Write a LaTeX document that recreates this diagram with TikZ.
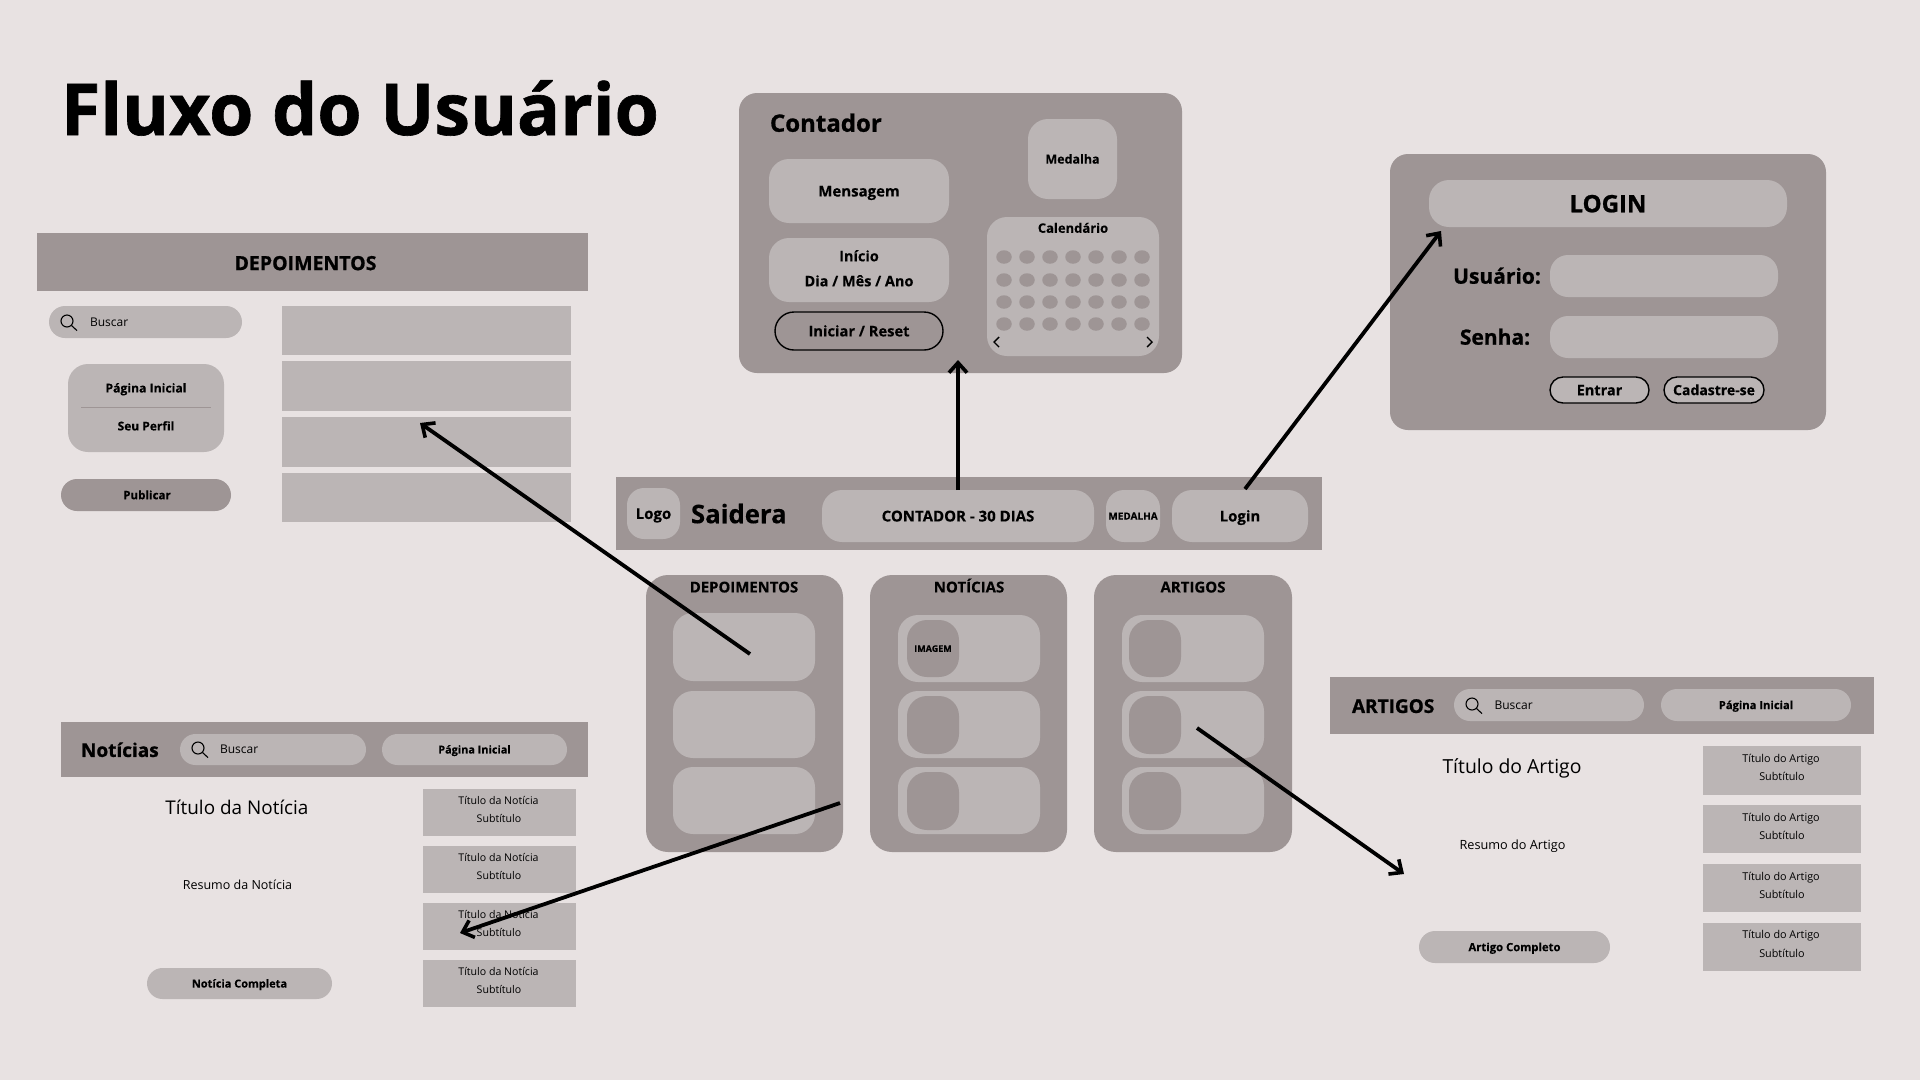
\documentclass[tikz,border=0pt]{standalone}
\usepackage{fontspec}
\setmainfont{Open Sans}[BoldFeatures={FakeBold=0.15}]
\newfontfamily\xbfam{Open Sans}[BoldFeatures={FakeBold=0.9}]
\newcommand{\xbf}{\xbfam\bfseries}
\usetikzlibrary{arrows.meta,shapes.geometric}
\definecolor{fundo}{HTML}{E8E2E2}
\definecolor{escuro}{HTML}{9E9595}
\definecolor{claro}{HTML}{BBB5B5}
\tikzset{
  bx/.style={inner sep=0pt,outer sep=0pt,rectangle},
  painel/.style={bx,fill=escuro,rounded corners=#1},
  painel/.default=0pt,
  cartao/.style={bx,fill=claro,rounded corners=#1},
  cartao/.default=0pt,
  contorno/.style={bx,draw=black,line width=1.4pt,rounded corners=#1},
  bold/.style={font=\bfseries\fontsize{#1}{#1}\selectfont,text height={.73*#1 pt},text depth=0pt,text=black},
  xbold/.style={font=\xbf\fontsize{#1}{#1}\selectfont,text height={.73*#1 pt},text depth=0pt,text=black},
  reg/.style={font=\fontsize{#1}{#1}\selectfont,text height={.73*#1 pt},text depth=0pt,text=black},
  lbl/.style={inner sep=0pt,outer sep=0pt},
  seta/.style={line width=3.8pt,black,-{Straight Barb[length=10pt,width=18pt,line width=3.6pt]}},
  lente/.style={black,line width=1.1pt},
  ponto/.style={shape=ellipse,fill=escuro,minimum width=15.5pt,minimum height=13.5pt,inner sep=0pt},
}
\newcommand{\bx}[7]{%
  \pgfmathsetmacro{\cxx}{(#2+#4)/2}\pgfmathsetmacro{\cyy}{(#3+#5)/2}%
  \pgfmathsetmacro{\www}{#4-#2}\pgfmathsetmacro{\hhh}{#5-#3}%
  \node[#6,minimum width=\www pt,minimum height=\hhh pt] (#1) at (\cxx,\cyy) {#7};}
\newcommand{\lupa}[2]{%
  \draw[lente] (#1-1,#2-1) circle[radius=6pt];
  \draw[lente] (#1+3.4,#2+3.4) -- (#1+9,#2+8.6);}
\begin{document}
\begin{tikzpicture}[x=1pt,y=-1pt]
\useasboundingbox (0,0) rectangle (1920,1080);
\fill[fundo] (0,0) rectangle (1920,1080);

\node[lbl,anchor=base west,font=\xbf\fontsize{71.6}{72}\selectfont] (titulo) at (61,135) {Fluxo do Usuário};

% ---- Contador
\bx{pcont}{739}{93}{1182}{373}{painel=18pt}{}
\node[lbl,xbold=24,anchor=west] (tcont) at (770,123) {Contador};
\bx{msg}{769}{159}{949}{223}{cartao=20pt,bold=15}{Mensagem}
\bx{ini}{769}{238}{949}{302}{cartao=20pt}{}
\node[lbl,bold=14.5] (ini1) at (859,256) {Início};
\node[lbl,bold=14.5] (ini2) at (859,281) {Dia / Mês / Ano};
\bx{res}{775}{312}{943}{350}{contorno=19pt,bold=14.7}{Iniciar / Reset}
\bx{med}{1028}{119}{1117}{199}{cartao=20pt,bold=12.5}{Medalha}
\bx{cal}{987}{217}{1159}{356}{cartao=20pt}{}
\node[lbl,bold=13] (tcal) at (1073,228) {Calendário};
\foreach \yy [count=\j] in {257,280,302,324}
  \foreach \xx [count=\i] in {1004,1027,1050,1073,1096,1119,1142}
    \node[ponto] (d\i-\j) at (\xx,\yy) {};
\draw[line width=1.4pt] (999,337) -- (994,342) -- (999,347);
\draw[line width=1.4pt] (1147,337) -- (1152,342) -- (1147,347);

% ---- Login
\bx{plog}{1390}{154}{1826}{430}{painel=18pt}{}
\bx{tlog}{1429}{180}{1787}{227}{cartao=20pt,xbold=24}{LOGIN}
\node[lbl,xbold=21] (lusu) at (1497,276) {Usuário:};
\bx{fusu}{1550}{255}{1778}{297}{cartao=18pt}{}
\node[lbl,xbold=21] (lsen) at (1495,337) {Senha:};
\bx{fsen}{1550}{316}{1778}{358}{cartao=18pt}{}
\bx{ent}{1550}{377}{1649}{403}{contorno=13pt,fill=claro,bold=14.5}{Entrar}
\bx{cad}{1664}{377}{1764}{403}{contorno=13pt,fill=claro,bold=14}{Cadastre-se}

% ---- Barra
\bx{barra}{616}{477}{1322}{550}{painel}{}
\bx{logo}{627}{488}{680}{539}{cartao=17pt,bold=15}{Logo}
\node[lbl,font=\fontsize{25.7}{26}\selectfont\bfseries,anchor=west,text height=18.5pt,text depth=0pt] (sai) at (691,514) {Saidera};
\bx{cnt}{822}{490}{1094}{542}{cartao=20pt,bold=15}{CONTADOR - 30 DIAS}
\bx{bmed}{1106}{490}{1160}{542}{cartao=18pt,bold=10}{MEDALHA}
\bx{blog}{1172}{490}{1308}{542}{cartao=20pt,bold=15}{Login}

% ---- Colunas
\bx{cdep}{646}{575}{843}{852}{painel=22pt}{}
\bx{cnot}{870}{575}{1067}{852}{painel=22pt}{}
\bx{cart}{1094}{575}{1292}{852}{painel=22pt}{}
\node[lbl,bold=14.9] (tdep) at (744,587) {DEPOIMENTOS};
\node[lbl,bold=15] (tnot) at (969,587) {NOTÍCIAS};
\node[lbl,bold=15] (tart) at (1193,587) {ARTIGOS};
\bx{dep1}{673}{613}{815}{681}{cartao=20pt}{}
\bx{dep2}{673}{691}{815}{758}{cartao=20pt}{}
\bx{dep3}{673}{767}{815}{834}{cartao=20pt}{}
\bx{not1}{898}{615}{1040}{682}{cartao=20pt}{}
\bx{not2}{898}{691}{1040}{758}{cartao=20pt}{}
\bx{not3}{898}{767}{1040}{834}{cartao=20pt}{}
\bx{art1}{1122}{615}{1264}{682}{cartao=20pt}{}
\bx{art2}{1122}{691}{1264}{758}{cartao=20pt}{}
\bx{art3}{1122}{767}{1264}{834}{cartao=20pt}{}
\bx{ni1}{907}{620}{959}{677}{painel=20pt,bold=9}{IMAGEM}
\bx{ni2}{907}{696}{959}{754}{painel=20pt}{}
\bx{ni3}{907}{772}{959}{830}{painel=20pt}{}
\bx{ai1}{1129}{620}{1181}{677}{painel=20pt}{}
\bx{ai2}{1129}{696}{1181}{754}{painel=20pt}{}
\bx{ai3}{1129}{772}{1181}{830}{painel=20pt}{}

% ---- Pagina Depoimentos
\bx{hdep}{37}{233}{588}{291}{painel}{}
\node[lbl,xbold=19.5] (thdep) at (305.5,263) {DEPOIMENTOS};
\bx{bdep}{49}{306}{242}{338}{cartao=16pt}{}
\lupa{68}{322}
\node[lbl,reg=12,anchor=west] (tb1) at (90,322) {Buscar};
\bx{menu}{68}{364}{224}{452}{cartao=20pt}{}
\node[lbl,bold=12.2] (mp) at (146,388) {Página Inicial};
\draw[escuro,line width=1pt] (81,407.7) -- (211,407.7);
\node[lbl,bold=12] (mf) at (146,426) {Seu Perfil};
\bx{pub}{61}{479}{231}{511}{painel=16pt}{}
\node[lbl,bold=11.6] (tpub) at (147,495) {Publicar};
\bx{r1}{281.5}{306}{571}{355}{cartao}{}
\bx{r2}{281.5}{361}{571}{411}{cartao}{}
\bx{r3}{281.5}{417}{571}{467}{cartao}{}
\bx{r4}{281.5}{473}{571}{522}{cartao}{}

% ---- Pagina Noticias
\bx{hnot}{61}{722}{588}{777}{painel}{}
\node[lbl,xbold=19,anchor=west] (tn) at (81,750) {Notícias};
\bx{bnot}{180}{734}{366}{765}{cartao=15.5pt}{}
\lupa{199}{749}
\node[lbl,reg=12,anchor=west] (tb2) at (220,749) {Buscar};
\bx{pnot}{382}{734}{567}{765}{cartao=15.5pt,bold=10.9}{Página Inicial}
\node[lbl,reg=18.9] (tit1) at (237,808) {Título da Notícia};
\node[lbl,reg=12.5] (res1) at (237.5,885) {Resumo da Notícia};
\bx{ncomp}{147}{968}{332}{999}{cartao=15.5pt,bold=11}{Notícia Completa}
\bx{sn1}{422.5}{789}{576}{836}{cartao}{}
\bx{sn2}{422.5}{846}{576}{893}{cartao}{}
\bx{sn3}{422.5}{903}{576}{950}{cartao}{}
\bx{sn4}{422.5}{960}{576}{1007}{cartao}{}
\foreach \a/\b [count=\i] in {801/819,858/876,915/933,972/990}{
  \node[lbl,reg=10.6] (sna\i) at (498.5,\a) {Título da Notícia};
  \node[lbl,reg=10.6] (snb\i) at (499,\b) {Subtítulo};
}

% ---- Pagina Artigos
\bx{hart}{1330}{677}{1874}{734}{painel}{}
\node[lbl,xbold=19,anchor=west] (ta) at (1352,706) {ARTIGOS};
\bx{bart}{1454}{689}{1644}{721}{cartao=16pt}{}
\lupa{1473}{705}
\node[lbl,reg=12,anchor=west] (tb3) at (1494.5,705) {Buscar};
\bx{part}{1661}{689}{1851}{721}{cartao=16pt,bold=11.2}{Página Inicial}
\node[lbl,reg=19.4] (tit2) at (1512,766) {Título do Artigo};
\node[lbl,reg=12.7] (res2) at (1512.5,845) {Resumo do Artigo};
\bx{acomp}{1419}{931}{1610}{963}{cartao=16pt,bold=11.3}{Artigo Completo}
\bx{sa1}{1703}{746}{1861}{795}{cartao}{}
\bx{sa2}{1703}{805}{1861}{853}{cartao}{}
\bx{sa3}{1703}{864}{1861}{912}{cartao}{}
\bx{sa4}{1703}{923}{1861}{971}{cartao}{}
\foreach \a/\b [count=\i] in {759/777,818/836,877/895,935/954}{
  \node[lbl,reg=10.8] (saa\i) at (1781,\a) {Título do Artigo};
  \node[lbl,reg=10.8] (sab\i) at (1782,\b) {Subtítulo};
}

% ---- Setas
\coordinate (c1) at (958,490);  \coordinate (t1) at (958,360);
\coordinate (c2) at (1245,489); \coordinate (t2) at (1441,231);
\coordinate (c3) at (750,654);  \coordinate (t3) at (420,423);
\coordinate (c4) at (840,803);  \coordinate (t4) at (460,933);
\coordinate (c5) at (1197,728); \coordinate (t5) at (1404,874);
\draw[seta] (c1) -- (t1);
\draw[seta] (c2) -- (t2);
\draw[seta] (c3) -- (t3);
\draw[seta] (c4) -- (t4);
\draw[seta] (c5) -- (t5);
\end{tikzpicture}
\end{document}
